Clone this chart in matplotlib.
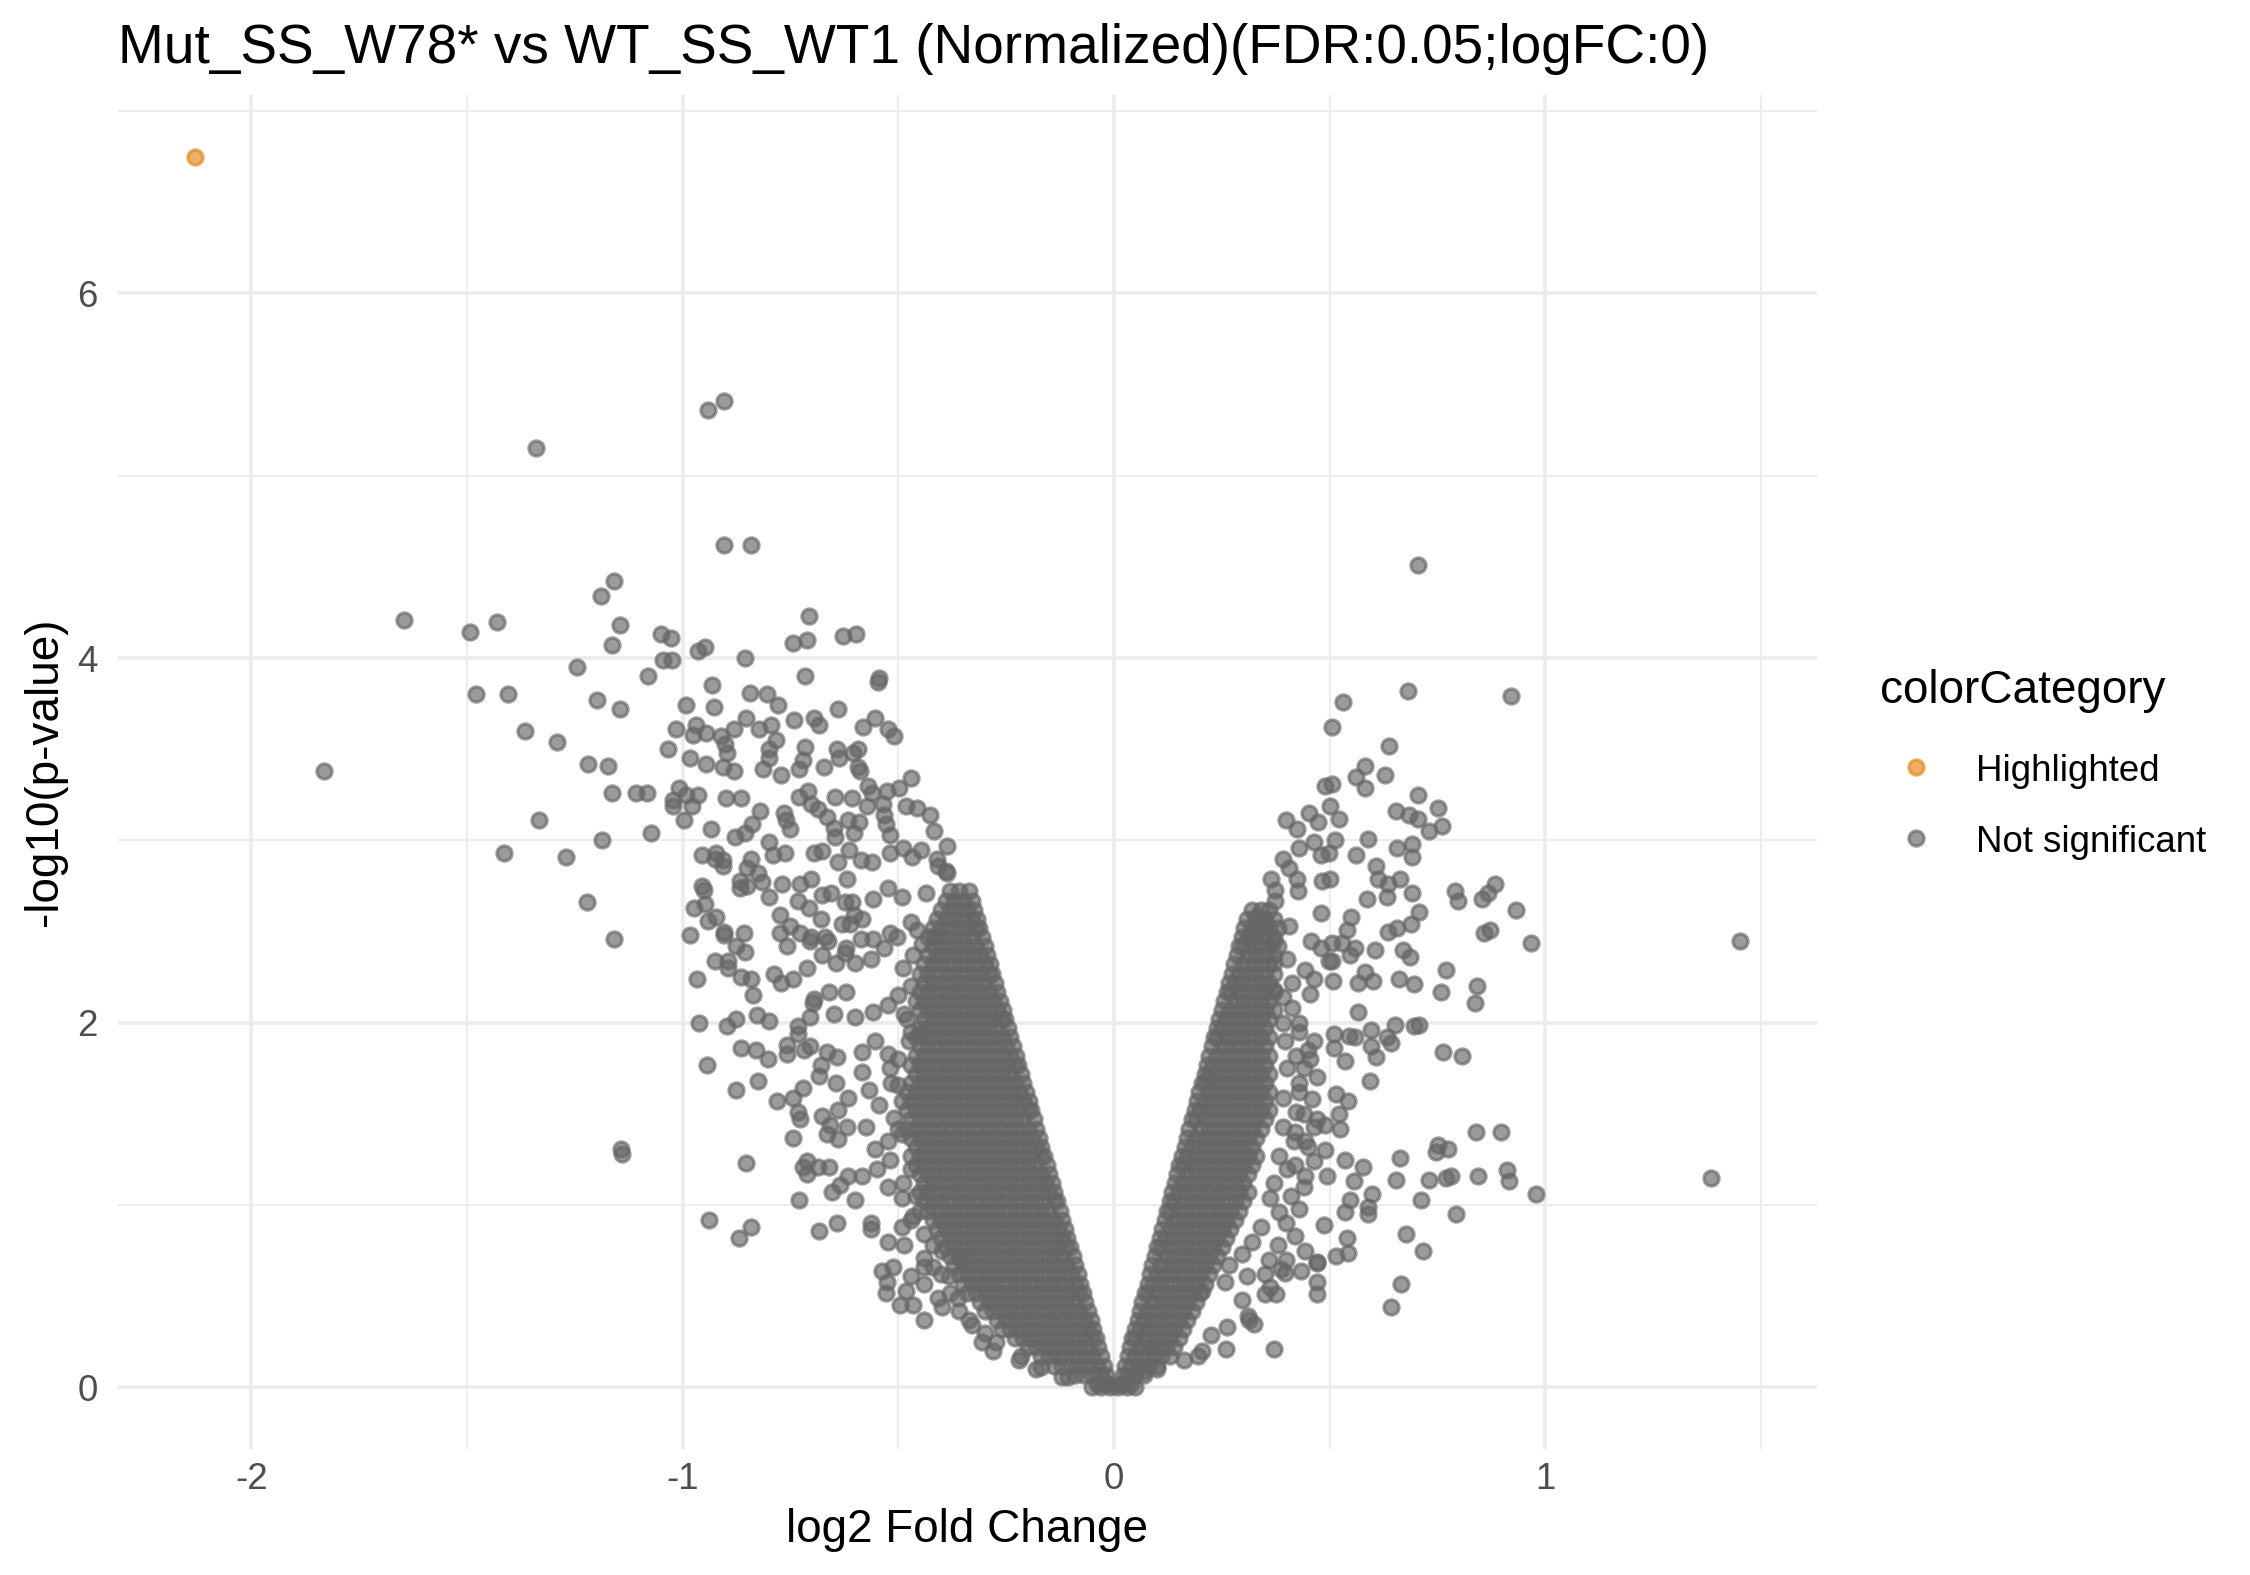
import numpy as np
import matplotlib
matplotlib.use("Agg")
import matplotlib.pyplot as plt
from matplotlib.lines import Line2D

plt.rcParams["font.family"] = ["Liberation Sans", "DejaVu Sans"]
plt.rcParams["axes.unicode_minus"] = False

title = "Mut_SS_W78* vs WT_SS_WT1 (Normalized)(FDR:0.05;logFC:0)"

# highlighted genes (log2FC, -log10 p)
hl_x = [-2.13, 0.09]
hl_y = [6.75, 0.22]

# dense V core, read row by row: (-log10 p, [log2FC, ...])
left_core = [
    (0.00, [-0.05, -0.03, -0.01]),
    (0.02, [-0.012, -0.02, -0.04]),
    (0.07, [-0.018, -0.03, -0.05, -0.07, -0.09]),
    (0.12, [-0.024, -0.04, -0.06, -0.08, -0.10, -0.12, -0.14]),
    (0.17, [-0.030, -0.05, -0.07, -0.09, -0.11, -0.13, -0.15, -0.17]),
    (0.22, [-0.036, -0.06, -0.08, -0.10, -0.12, -0.14, -0.16, -0.18, -0.20]),
    (0.27, [-0.042, -0.05, -0.07, -0.09, -0.11, -0.13, -0.15, -0.17, -0.19, -0.21, -0.23]),
    (0.32, [-0.048, -0.06, -0.08, -0.10, -0.12, -0.14, -0.16, -0.18, -0.20, -0.22, -0.24, -0.26]),
    (0.37, [-0.054, -0.07, -0.09, -0.11, -0.13, -0.15, -0.17, -0.19, -0.21, -0.23, -0.25, -0.27]),
    (0.42, [-0.060, -0.08, -0.10, -0.12, -0.14, -0.16, -0.18, -0.20, -0.22, -0.24, -0.26, -0.28, -0.30]),
    (0.47, [-0.066, -0.09, -0.11, -0.13, -0.15, -0.17, -0.19, -0.21, -0.23, -0.25, -0.27, -0.29, -0.31]),
    (0.52, [-0.072, -0.08, -0.10, -0.12, -0.14, -0.16, -0.18, -0.20, -0.22, -0.24, -0.26, -0.28, -0.30, -0.32, -0.34]),
    (0.57, [-0.078, -0.09, -0.11, -0.13, -0.15, -0.17, -0.19, -0.21, -0.23, -0.25, -0.27, -0.29, -0.31, -0.33, -0.35]),
    (0.62, [-0.084, -0.10, -0.12, -0.14, -0.16, -0.18, -0.20, -0.22, -0.24, -0.26, -0.28, -0.30, -0.32, -0.34, -0.36]),
    (0.67, [-0.090, -0.11, -0.13, -0.15, -0.17, -0.19, -0.21, -0.23, -0.25, -0.27, -0.29, -0.31, -0.33, -0.35, -0.37]),
    (0.72, [-0.096, -0.12, -0.14, -0.16, -0.18, -0.20, -0.22, -0.24, -0.26, -0.28, -0.30, -0.32, -0.34, -0.36, -0.38]),
    (0.77, [-0.102, -0.11, -0.13, -0.15, -0.17, -0.19, -0.21, -0.23, -0.25, -0.27, -0.29, -0.31, -0.33, -0.35, -0.37, -0.39]),
    (0.82, [-0.108, -0.12, -0.14, -0.16, -0.18, -0.20, -0.22, -0.24, -0.26, -0.28, -0.30, -0.32, -0.34, -0.36, -0.38, -0.40]),
    (0.87, [-0.114, -0.13, -0.15, -0.17, -0.19, -0.21, -0.23, -0.25, -0.27, -0.29, -0.31, -0.33, -0.35, -0.37, -0.39, -0.41]),
    (0.92, [-0.120, -0.14, -0.16, -0.18, -0.20, -0.22, -0.24, -0.26, -0.28, -0.30, -0.32, -0.34, -0.36, -0.38, -0.40, -0.42]),
    (0.97, [-0.126, -0.15, -0.17, -0.19, -0.21, -0.23, -0.25, -0.27, -0.29, -0.31, -0.33, -0.35, -0.37, -0.39, -0.41, -0.43]),
    (1.02, [-0.132, -0.14, -0.16, -0.18, -0.20, -0.22, -0.24, -0.26, -0.28, -0.30, -0.32, -0.34, -0.36, -0.38, -0.40, -0.42, -0.44]),
    (1.07, [-0.138, -0.15, -0.17, -0.19, -0.21, -0.23, -0.25, -0.27, -0.29, -0.31, -0.33, -0.35, -0.37, -0.39, -0.41, -0.43, -0.45]),
    (1.12, [-0.144, -0.16, -0.18, -0.20, -0.22, -0.24, -0.26, -0.28, -0.30, -0.32, -0.34, -0.36, -0.38, -0.40, -0.42, -0.44]),
    (1.17, [-0.150, -0.17, -0.19, -0.21, -0.23, -0.25, -0.27, -0.29, -0.31, -0.33, -0.35, -0.37, -0.39, -0.41, -0.43, -0.45]),
    (1.22, [-0.156, -0.18, -0.20, -0.22, -0.24, -0.26, -0.28, -0.30, -0.32, -0.34, -0.36, -0.38, -0.40, -0.42, -0.44, -0.46]),
    (1.27, [-0.162, -0.17, -0.19, -0.21, -0.23, -0.25, -0.27, -0.29, -0.31, -0.33, -0.35, -0.37, -0.39, -0.41, -0.43, -0.45, -0.47]),
    (1.32, [-0.168, -0.18, -0.20, -0.22, -0.24, -0.26, -0.28, -0.30, -0.32, -0.34, -0.36, -0.38, -0.40, -0.42, -0.44, -0.46]),
    (1.37, [-0.174, -0.19, -0.21, -0.23, -0.25, -0.27, -0.29, -0.31, -0.33, -0.35, -0.37, -0.39, -0.41, -0.43, -0.45, -0.47]),
    (1.42, [-0.180, -0.20, -0.22, -0.24, -0.26, -0.28, -0.30, -0.32, -0.34, -0.36, -0.38, -0.40, -0.42, -0.44, -0.46, -0.48]),
    (1.47, [-0.186, -0.21, -0.23, -0.25, -0.27, -0.29, -0.31, -0.33, -0.35, -0.37, -0.39, -0.41, -0.43, -0.45, -0.47]),
    (1.52, [-0.192, -0.20, -0.22, -0.24, -0.26, -0.28, -0.30, -0.32, -0.34, -0.36, -0.38, -0.40, -0.42, -0.44, -0.46, -0.48]),
    (1.57, [-0.198, -0.21, -0.23, -0.25, -0.27, -0.29, -0.31, -0.33, -0.35, -0.37, -0.39, -0.41, -0.43, -0.45, -0.47]),
    (1.62, [-0.204, -0.22, -0.24, -0.26, -0.28, -0.30, -0.32, -0.34, -0.36, -0.38, -0.40, -0.42, -0.44, -0.46, -0.48]),
    (1.67, [-0.210, -0.23, -0.25, -0.27, -0.29, -0.31, -0.33, -0.35, -0.37, -0.39, -0.41, -0.43, -0.45, -0.47]),
    (1.72, [-0.216, -0.24, -0.26, -0.28, -0.30, -0.32, -0.34, -0.36, -0.38, -0.40, -0.42, -0.44, -0.46]),
    (1.77, [-0.222, -0.23, -0.25, -0.27, -0.29, -0.31, -0.33, -0.35, -0.37, -0.39, -0.41, -0.43, -0.45, -0.47]),
    (1.82, [-0.228, -0.24, -0.26, -0.28, -0.30, -0.32, -0.34, -0.36, -0.38, -0.40, -0.42, -0.44, -0.46]),
    (1.87, [-0.234, -0.25, -0.27, -0.29, -0.31, -0.33, -0.35, -0.37, -0.39, -0.41, -0.43, -0.45]),
    (1.92, [-0.240, -0.26, -0.28, -0.30, -0.32, -0.34, -0.36, -0.38, -0.40, -0.42, -0.44, -0.46]),
    (1.97, [-0.246, -0.27, -0.29, -0.31, -0.33, -0.35, -0.37, -0.39, -0.41, -0.43, -0.45]),
    (2.02, [-0.252, -0.26, -0.28, -0.30, -0.32, -0.34, -0.36, -0.38, -0.40, -0.42, -0.44]),
    (2.07, [-0.258, -0.27, -0.29, -0.31, -0.33, -0.35, -0.37, -0.39, -0.41, -0.43, -0.45]),
    (2.12, [-0.264, -0.28, -0.30, -0.32, -0.34, -0.36, -0.38, -0.40, -0.42, -0.44]),
    (2.17, [-0.270, -0.29, -0.31, -0.33, -0.35, -0.37, -0.39, -0.41, -0.43, -0.45]),
    (2.22, [-0.276, -0.30, -0.32, -0.34, -0.36, -0.38, -0.40, -0.42, -0.44]),
    (2.27, [-0.282, -0.29, -0.31, -0.33, -0.35, -0.37, -0.39, -0.41, -0.43, -0.45]),
    (2.32, [-0.288, -0.30, -0.32, -0.34, -0.36, -0.38, -0.40, -0.42, -0.44]),
    (2.37, [-0.294, -0.31, -0.33, -0.35, -0.37, -0.39, -0.41, -0.43]),
    (2.42, [-0.300, -0.32, -0.34, -0.36, -0.38, -0.40, -0.42]),
    (2.47, [-0.306, -0.33, -0.35, -0.37, -0.39, -0.41, -0.43]),
    (2.52, [-0.312, -0.32, -0.34, -0.36, -0.38, -0.40, -0.42]),
    (2.57, [-0.318, -0.33, -0.35, -0.37, -0.39, -0.41]),
    (2.62, [-0.324, -0.34, -0.36, -0.38, -0.40]),
    (2.67, [-0.330, -0.35, -0.37, -0.39]),
    (2.72, [-0.336, -0.36, -0.38]),
]

right_core = [
    (0.00, [0.01, 0.03, 0.05]),
    (0.02, [0.014, 0.02, 0.04]),
    (0.07, [0.020, 0.03, 0.05, 0.07]),
    (0.12, [0.026, 0.04, 0.06, 0.08, 0.10]),
    (0.17, [0.032, 0.05, 0.07, 0.09, 0.11, 0.13]),
    (0.22, [0.037, 0.06, 0.08, 0.10, 0.12, 0.14]),
    (0.27, [0.043, 0.05, 0.07, 0.09, 0.11, 0.13, 0.15]),
    (0.32, [0.049, 0.06, 0.08, 0.10, 0.12, 0.14, 0.16]),
    (0.37, [0.055, 0.07, 0.09, 0.11, 0.13, 0.15, 0.17]),
    (0.42, [0.060, 0.08, 0.10, 0.12, 0.14, 0.16, 0.18]),
    (0.47, [0.066, 0.09, 0.11, 0.13, 0.15, 0.17, 0.19]),
    (0.52, [0.072, 0.08, 0.10, 0.12, 0.14, 0.16, 0.18, 0.20]),
    (0.57, [0.078, 0.09, 0.11, 0.13, 0.15, 0.17, 0.19, 0.21]),
    (0.62, [0.083, 0.10, 0.12, 0.14, 0.16, 0.18, 0.20, 0.22]),
    (0.67, [0.089, 0.11, 0.13, 0.15, 0.17, 0.19, 0.21, 0.23]),
    (0.72, [0.095, 0.12, 0.14, 0.16, 0.18, 0.20, 0.22, 0.24]),
    (0.77, [0.101, 0.11, 0.13, 0.15, 0.17, 0.19, 0.21, 0.23, 0.25]),
    (0.82, [0.106, 0.12, 0.14, 0.16, 0.18, 0.20, 0.22, 0.24, 0.26]),
    (0.87, [0.112, 0.13, 0.15, 0.17, 0.19, 0.21, 0.23, 0.25, 0.27]),
    (0.92, [0.118, 0.14, 0.16, 0.18, 0.20, 0.22, 0.24, 0.26, 0.28]),
    (0.97, [0.124, 0.13, 0.15, 0.17, 0.19, 0.21, 0.23, 0.25, 0.27, 0.29]),
    (1.02, [0.129, 0.14, 0.16, 0.18, 0.20, 0.22, 0.24, 0.26, 0.28, 0.30]),
    (1.07, [0.135, 0.15, 0.17, 0.19, 0.21, 0.23, 0.25, 0.27, 0.29, 0.31]),
    (1.12, [0.141, 0.16, 0.18, 0.20, 0.22, 0.24, 0.26, 0.28, 0.30]),
    (1.17, [0.147, 0.17, 0.19, 0.21, 0.23, 0.25, 0.27, 0.29, 0.31]),
    (1.22, [0.152, 0.16, 0.18, 0.20, 0.22, 0.24, 0.26, 0.28, 0.30, 0.32]),
    (1.27, [0.158, 0.17, 0.19, 0.21, 0.23, 0.25, 0.27, 0.29, 0.31, 0.33]),
    (1.32, [0.164, 0.18, 0.20, 0.22, 0.24, 0.26, 0.28, 0.30, 0.32]),
    (1.37, [0.170, 0.19, 0.21, 0.23, 0.25, 0.27, 0.29, 0.31, 0.33]),
    (1.42, [0.175, 0.20, 0.22, 0.24, 0.26, 0.28, 0.30, 0.32, 0.34]),
    (1.47, [0.181, 0.19, 0.21, 0.23, 0.25, 0.27, 0.29, 0.31, 0.33, 0.35]),
    (1.52, [0.187, 0.20, 0.22, 0.24, 0.26, 0.28, 0.30, 0.32, 0.34, 0.36]),
    (1.57, [0.193, 0.21, 0.23, 0.25, 0.27, 0.29, 0.31, 0.33, 0.35]),
    (1.62, [0.198, 0.22, 0.24, 0.26, 0.28, 0.30, 0.32, 0.34, 0.36]),
    (1.67, [0.204, 0.21, 0.23, 0.25, 0.27, 0.29, 0.31, 0.33, 0.35]),
    (1.72, [0.210, 0.22, 0.24, 0.26, 0.28, 0.30, 0.32, 0.34, 0.36]),
    (1.77, [0.216, 0.23, 0.25, 0.27, 0.29, 0.31, 0.33, 0.35]),
    (1.82, [0.221, 0.24, 0.26, 0.28, 0.30, 0.32, 0.34, 0.36]),
    (1.87, [0.227, 0.25, 0.27, 0.29, 0.31, 0.33, 0.35]),
    (1.92, [0.233, 0.24, 0.26, 0.28, 0.30, 0.32, 0.34, 0.36]),
    (1.97, [0.239, 0.25, 0.27, 0.29, 0.31, 0.33, 0.35]),
    (2.02, [0.244, 0.26, 0.28, 0.30, 0.32, 0.34, 0.36]),
    (2.07, [0.250, 0.27, 0.29, 0.31, 0.33, 0.35, 0.37]),
    (2.12, [0.256, 0.28, 0.30, 0.32, 0.34, 0.36]),
    (2.17, [0.262, 0.27, 0.29, 0.31, 0.33, 0.35, 0.37]),
    (2.22, [0.267, 0.28, 0.30, 0.32, 0.34, 0.36]),
    (2.27, [0.273, 0.29, 0.31, 0.33, 0.35, 0.37]),
    (2.32, [0.279, 0.30, 0.32, 0.34, 0.36]),
    (2.37, [0.285, 0.31, 0.33, 0.35, 0.37]),
    (2.42, [0.290, 0.30, 0.32, 0.34, 0.36, 0.38]),
    (2.47, [0.296, 0.31, 0.33, 0.35, 0.37]),
    (2.52, [0.302, 0.32, 0.34, 0.36, 0.38]),
    (2.57, [0.308, 0.33, 0.35, 0.37]),
    (2.62, [0.32, 0.34, 0.36]),
]

# loose points outside the core, left arm
spread_left = [
    (-0.942, 5.36), (-0.905, 5.41), (-1.34, 5.15), (-0.904, 4.62), (-0.842, 4.62),
    (-1.158, 4.42), (-1.189, 4.34), (-1.647, 4.21), (-1.431, 4.20), (-1.492, 4.14),
    (-1.145, 4.18), (-1.164, 4.07), (-1.05, 4.13), (-1.028, 4.11), (-0.965, 4.04),
    (-0.948, 4.06), (-1.045, 3.99), (-1.025, 3.99), (-0.855, 4.0), (-1.246, 3.95),
    (-1.081, 3.90), (-0.932, 3.85), (-0.844, 3.81), (-1.48, 3.80), (-1.404, 3.80),
    (-1.198, 3.77), (-1.146, 3.72), (-0.991, 3.74), (-0.928, 3.73), (-0.852, 3.67),
    (-1.365, 3.60), (-1.292, 3.54), (-1.016, 3.61), (-0.97, 3.63), (-0.977, 3.58),
    (-0.946, 3.59), (-0.911, 3.57), (-0.882, 3.61), (-0.901, 3.53), (-0.896, 3.48),
    (-1.035, 3.50), (-0.984, 3.45), (-0.946, 3.42), (-0.907, 3.40), (-0.88, 3.38),
    (-1.219, 3.42), (-1.173, 3.41), (-1.832, 3.38), (-1.164, 3.26), (-1.107, 3.26),
    (-1.083, 3.26), (-1.009, 3.29), (-0.992, 3.25), (-0.964, 3.25), (-1.023, 3.22),
    (-1.023, 3.19), (-0.978, 3.19), (-0.9, 3.23), (-0.865, 3.23), (-0.996, 3.11),
    (-1.333, 3.11), (-1.074, 3.04), (-0.935, 3.06), (-0.879, 3.02), (-0.856, 3.04),
    (-1.188, 3.0), (-1.414, 2.93), (-1.27, 2.91), (-0.956, 2.92), (-0.922, 2.93),
    (-0.926, 2.90), (-0.907, 2.89), (-0.907, 2.86), (-0.85, 2.85), (-0.842, 2.9),
    (-0.868, 2.78), (-0.868, 2.74), (-0.85, 2.75), (-0.956, 2.75), (-0.951, 2.73),
    (-1.222, 2.66), (-0.974, 2.63), (-0.949, 2.65), (-0.922, 2.58), (-0.94, 2.56),
    (-0.904, 2.50), (-0.903, 2.48), (-0.858, 2.49), (-0.982, 2.48), (-1.16, 2.46),
    (-0.876, 2.42), (-0.855, 2.39), (-0.925, 2.34), (-0.895, 2.34), (-0.895, 2.30),
    (-0.967, 2.24), (-0.864, 2.25), (-0.841, 2.24),
    (-0.707, 4.23), (-0.743, 4.08), (-0.712, 4.10), (-0.627, 4.12), (-0.597, 4.13),
    (-0.716, 3.90), (-0.544, 3.89), (-0.548, 3.87), (-0.804, 3.80), (-0.779, 3.74),
    (-0.639, 3.72), (-0.555, 3.67), (-0.582, 3.62), (-0.523, 3.61), (-0.511, 3.57),
    (-0.742, 3.66), (-0.695, 3.67), (-0.684, 3.63), (-0.824, 3.61), (-0.794, 3.63),
    (-0.784, 3.55), (-0.8, 3.50), (-0.8, 3.45), (-0.716, 3.51), (-0.72, 3.44),
    (-0.643, 3.50), (-0.637, 3.45), (-0.593, 3.50), (-0.606, 3.48), (-0.813, 3.39),
    (-0.773, 3.36), (-0.731, 3.39), (-0.673, 3.40), (-0.593, 3.40), (-0.588, 3.38),
    (-0.571, 3.30), (-0.561, 3.26), (-0.471, 3.34), (-0.499, 3.29), (-0.527, 3.27),
    (-0.731, 3.24), (-0.71, 3.27), (-0.647, 3.24), (-0.607, 3.23), (-0.821, 3.16),
    (-0.766, 3.15), (-0.761, 3.11), (-0.751, 3.06), (-0.702, 3.20), (-0.686, 3.17),
    (-0.665, 3.13), (-0.65, 3.07), (-0.572, 3.19), (-0.535, 3.20), (-0.532, 3.14),
    (-0.529, 3.09), (-0.519, 3.03), (-0.481, 3.19), (-0.457, 3.18), (-0.426, 3.14),
    (-0.418, 3.05), (-0.387, 2.97), (-0.617, 3.11), (-0.592, 3.10), (-0.603, 3.04),
    (-0.647, 3.02), (-0.839, 3.09), (-0.8, 2.99), (-0.79, 2.92), (-0.762, 2.93),
    (-0.696, 2.93), (-0.676, 2.94), (-0.64, 2.88), (-0.615, 2.95), (-0.587, 2.89),
    (-0.561, 2.88), (-0.519, 2.93), (-0.49, 2.96), (-0.468, 2.91), (-0.447, 2.95),
    (-0.41, 2.90), (-0.39, 2.83), (-0.826, 2.82), (-0.816, 2.77), (-0.769, 2.76),
    (-0.728, 2.76), (-0.702, 2.79), (-0.676, 2.70), (-0.618, 2.79), (-0.559, 2.68),
    (-0.608, 2.66), (-0.655, 2.71), (-0.8, 2.69), (-0.774, 2.59), (-0.75, 2.53),
    (-0.733, 2.67), (-0.707, 2.63), (-0.68, 2.57), (-0.624, 2.66), (-0.603, 2.59),
    (-0.728, 2.49), (-0.702, 2.47), (-0.67, 2.47), (-0.63, 2.54), (-0.774, 2.49),
    (-0.759, 2.42), (-0.712, 2.30), (-0.676, 2.37), (-0.66, 2.17), (-0.644, 2.33),
    (-0.624, 2.38), (-0.587, 2.46), (-0.559, 2.46), (-0.519, 2.49), (-0.457, 2.51),
    (-0.42, 2.47), (-0.787, 2.27), (-0.771, 2.22), (-0.743, 2.24), (-0.837, 2.15),
    (-0.696, 2.13), (-0.523, 2.74), (-0.492, 2.69), (-0.435, 2.71), (-0.388, 2.82),
    (-0.408, 2.86), (-0.533, 2.41), (-0.502, 2.47), (-0.466, 2.37), (-0.445, 2.43),
    (-0.564, 2.35), (-0.601, 2.33), (-0.585, 2.57), (-0.611, 2.54), (-0.622, 2.41),
    (-0.663, 2.45), (-0.705, 2.45),
    (-0.876, 2.02), (-0.828, 2.04), (-0.8, 2.01), (-0.962, 2.0), (-0.897, 1.98),
    (-0.705, 2.03), (-0.733, 1.98), (-0.733, 1.94), (-0.65, 2.05), (-0.698, 2.11),
    (-0.622, 2.17), (-0.864, 1.86), (-0.83, 1.85), (-0.802, 1.80), (-0.757, 1.88),
    (-0.757, 1.83), (-0.718, 1.85), (-0.705, 1.87), (-0.666, 1.84), (-0.642, 1.81),
    (-0.679, 1.77), (-0.684, 1.71), (-0.944, 1.77), (-0.876, 1.63), (-0.826, 1.68),
    (-0.781, 1.57), (-0.745, 1.59), (-0.722, 1.64), (-0.645, 1.67), (-0.616, 1.59),
    (-0.733, 1.51), (-0.728, 1.47), (-0.677, 1.49), (-0.658, 1.44), (-0.64, 1.52),
    (-0.743, 1.37), (-0.666, 1.39), (-0.64, 1.36), (-0.618, 1.43), (-1.143, 1.31),
    (-1.14, 1.28), (-0.852, 1.23), (-0.712, 1.24), (-0.72, 1.21), (-0.687, 1.21),
    (-0.66, 1.21), (-0.712, 1.17), (-0.635, 1.11), (-0.653, 1.07), (-0.731, 1.03),
    (-0.616, 1.16), (-0.939, 0.92), (-0.842, 0.88), (-0.87, 0.82), (-0.684, 0.86),
    (-0.642, 0.90), (-0.564, 0.87), (-0.486, 0.78), (-0.513, 0.66), (-0.525, 0.58),
    (-0.47, 0.61), (-0.398, 0.44), (-0.419, 0.66), (-0.6, 1.03),
    (-0.601, 2.03), (-0.559, 2.06), (-0.523, 2.10), (-0.486, 2.05), (-0.46, 2.12),
    (-0.585, 1.84), (-0.554, 1.90), (-0.523, 1.83), (-0.476, 1.90), (-0.45, 1.94),
    (-0.585, 1.73), (-0.569, 1.63), (-0.544, 1.55), (-0.518, 1.67), (-0.492, 1.57),
    (-0.575, 1.43), (-0.554, 1.31), (-0.523, 1.35), (-0.492, 1.39), (-0.585, 1.16),
    (-0.549, 1.20), (-0.523, 1.10), (-0.492, 1.04), (-0.564, 0.90), (-0.523, 0.80),
    (-0.492, 0.88), (-0.466, 0.94), (-0.538, 0.64), (-0.528, 0.52), (-0.497, 0.45),
    (-0.466, 0.45), (-0.481, 0.53), (-0.44, 0.37), (-0.408, 0.49), (-0.44, 0.71),
    (-0.398, 0.75), (-0.383, 0.61), (-0.362, 0.49), (-0.336, 0.37), (-0.305, 0.25),
    (-0.273, 0.25), (-0.357, 0.71), (-0.44, 0.57),
    (-0.47, 2.55), (-0.49, 2.30), (-0.47, 2.20), (-0.50, 2.15), (-0.48, 2.02),
    (-0.47, 1.95), (-0.50, 1.80), (-0.52, 1.75), (-0.50, 1.66), (-0.51, 1.48),
    (-0.50, 1.42), (-0.52, 1.25), (-0.47, 1.20), (-0.49, 1.12), (-0.46, 1.05),
    (-0.45, 0.97), (-0.47, 0.92), (-0.44, 0.84), (-0.42, 0.78), (-0.44, 0.66),
    (-0.40, 0.62), (-0.38, 0.52), (-0.36, 0.42), (-0.33, 0.34), (-0.30, 0.30),
    (-0.28, 0.20), (-0.22, 0.15), (-0.18, 0.10), (-0.12, 0.06), (-0.216, 0.17),
    (-0.169, 0.11), (-0.107, 0.06),
]

# loose points outside the core, right arm
spread_right = [
    (0.706, 4.51), (0.682, 3.82), (0.92, 3.79), (0.53, 3.76), (0.505, 3.62),
    (0.638, 3.52), (0.583, 3.41), (0.562, 3.35), (0.628, 3.36), (0.583, 3.29),
    (0.49, 3.30), (0.505, 3.31), (0.5, 3.19), (0.706, 3.25), (0.751, 3.18),
    (0.653, 3.16), (0.685, 3.14), (0.706, 3.12), (0.73, 3.05), (0.76, 3.08),
    (0.4, 3.11), (0.424, 3.06), (0.453, 3.15), (0.472, 3.10), (0.522, 3.12),
    (0.43, 2.96), (0.463, 2.99), (0.479, 2.92), (0.498, 2.93), (0.513, 3.0),
    (0.589, 3.01), (0.656, 2.96), (0.692, 2.98), (0.692, 2.91), (0.561, 2.92),
    (0.391, 2.90), (0.407, 2.85), (0.425, 2.79), (0.365, 2.79), (0.373, 2.73),
    (0.427, 2.72), (0.373, 2.67), (0.482, 2.78), (0.5, 2.79), (0.608, 2.86),
    (0.612, 2.79), (0.635, 2.76), (0.664, 2.79), (0.634, 2.69), (0.692, 2.71),
    (0.587, 2.68), (0.707, 2.61), (0.79, 2.72), (0.798, 2.67), (0.853, 2.68),
    (0.868, 2.71), (0.884, 2.76), (0.933, 2.62), (0.479, 2.60), (0.549, 2.58),
    (0.541, 2.51), (0.635, 2.50), (0.656, 2.52), (0.689, 2.54), (0.858, 2.49),
    (0.871, 2.51), (0.967, 2.44), (1.451, 2.45), (0.458, 2.45), (0.479, 2.41),
    (0.505, 2.44), (0.528, 2.44), (0.559, 2.41), (0.547, 2.37), (0.605, 2.40),
    (0.671, 2.40), (0.687, 2.36), (0.769, 2.29), (0.842, 2.20), (0.837, 2.11),
    (0.758, 2.17), (0.583, 2.28), (0.567, 2.22), (0.6, 2.23), (0.661, 2.24),
    (0.695, 2.21), (0.508, 2.23), (0.498, 2.34), (0.506, 2.34), (0.567, 2.06),
    (0.651, 1.99), (0.695, 1.98), (0.707, 1.99), (0.595, 1.96), (0.545, 1.93),
    (0.56, 1.92), (0.51, 1.94), (0.51, 1.86), (0.634, 1.92), (0.643, 1.89),
    (0.762, 1.84), (0.808, 1.82), (0.536, 1.79), (0.596, 1.87), (0.607, 1.81),
    (0.593, 1.68), (0.516, 1.61), (0.542, 1.57), (0.521, 1.50), (0.524, 1.42),
    (0.49, 1.44), (0.84, 1.40), (0.897, 1.40), (0.752, 1.33), (0.775, 1.31),
    (0.747, 1.29), (0.664, 1.26), (0.578, 1.21), (0.536, 1.25), (0.655, 1.14),
    (0.73, 1.14), (0.77, 1.15), (0.782, 1.16), (0.845, 1.16), (0.912, 1.19),
    (0.915, 1.13), (0.978, 1.06), (1.384, 1.15), (0.557, 1.13), (0.599, 1.06),
    (0.588, 0.99), (0.588, 0.95), (0.536, 0.96), (0.548, 1.03), (0.713, 1.03),
    (0.793, 0.95), (0.54, 0.82), (0.542, 0.74), (0.514, 0.72), (0.676, 0.84),
    (0.716, 0.75), (0.471, 0.68), (0.471, 0.58), (0.471, 0.51), (0.433, 0.64),
    (0.665, 0.57), (0.643, 0.44), (0.49, 1.30), (0.493, 1.16), (0.488, 0.89),
    (0.372, 0.21), (0.324, 0.35), (0.311, 0.39), (0.259, 0.21),
    (0.392, 2.0), (0.413, 2.08), (0.428, 2.0), (0.397, 1.9), (0.423, 1.82),
    (0.402, 1.75), (0.428, 1.67), (0.392, 1.59), (0.423, 1.51), (0.392, 1.43),
    (0.418, 1.35), (0.382, 1.27), (0.402, 1.2), (0.371, 1.12), (0.361, 1.04),
    (0.382, 0.96), (0.34, 0.88), (0.319, 0.8), (0.298, 0.73), (0.267, 0.67),
    (0.392, 2.14), (0.371, 2.18), (0.413, 2.22), (0.371, 2.33), (0.402, 2.35),
    (0.371, 2.45), (0.407, 2.53), (0.35, 2.55), (0.33, 2.58), (0.319, 2.47),
    (0.444, 2.29), (0.465, 2.24), (0.454, 2.16), (0.465, 1.9), (0.454, 1.8),
    (0.465, 1.43), (0.444, 1.35), (0.465, 1.24), (0.444, 1.16), (0.47, 0.69),
    (0.444, 0.75), (0.387, 0.65), (0.397, 0.63), (0.376, 0.51), (0.361, 0.55),
    (0.309, 0.61), (0.35, 0.51), (0.257, 0.58), (0.205, 0.53), (0.298, 0.48),
    (0.43, 1.95), (0.45, 1.85), (0.44, 1.75), (0.47, 1.70), (0.43, 1.62),
    (0.46, 1.58), (0.44, 1.50), (0.47, 1.47), (0.42, 1.40), (0.45, 1.32),
    (0.42, 1.22), (0.44, 1.10), (0.41, 1.05), (0.43, 0.98), (0.40, 0.90),
    (0.42, 0.83), (0.38, 0.78), (0.40, 0.70), (0.36, 0.70), (0.35, 0.62),
    (0.07, 0.09), (0.10, 0.10), (0.163, 0.15), (0.194, 0.17), (0.205, 0.20),
    (0.226, 0.29), (0.262, 0.33), (0.314, 0.37),
]

# assemble the not-significant genes
ns_x, ns_y = [], []
for yv, xs in left_core + right_core:
    ns_x += xs
    ns_y += [yv] * len(xs)
for xv, yv in spread_left + spread_right:
    ns_x.append(xv)
    ns_y.append(yv)
ns_x = np.array(ns_x)
ns_y = np.array(ns_y)

grey = "#666666"
orange = "#E2841A"
pt_size = 13.0
pt_lw = 0.8
pt_alpha = 0.65

fig = plt.figure(figsize=(7.5, 5.25), dpi=300)
ax = fig.add_axes([118 / 2250, 1 - 1449 / 1575, (1817 - 118) / 2250, (1449 - 95) / 1575])

ax.scatter(hl_x, hl_y, s=pt_size, color=orange, edgecolors=orange, linewidths=pt_lw, alpha=pt_alpha, zorder=2)
ax.scatter(ns_x, ns_y, s=pt_size, color=grey, edgecolors=grey, linewidths=pt_lw, alpha=pt_alpha, zorder=3)

# ggplot style 5% expansion
all_x = np.concatenate([ns_x, hl_x])
all_y = np.concatenate([ns_y, hl_y])
xr = all_x.max() - all_x.min()
yr = all_y.max() - all_y.min()
ax.set_xlim(all_x.min() - 0.05 * xr, all_x.max() + 0.05 * xr)
ax.set_ylim(all_y.min() - 0.05 * yr, all_y.max() + 0.05 * yr)

ax.set_xticks([-2, -1, 0, 1])
ax.set_xticks([-1.5, -0.5, 0.5, 1.5], minor=True)
ax.set_yticks([0, 2, 4, 6])
ax.set_yticks([1, 3, 5, 7], minor=True)
ax.set_axisbelow(True)
ax.grid(which="major", color="#EBEBEB", linewidth=0.85)
ax.grid(which="minor", color="#EBEBEB", linewidth=0.45)
ax.tick_params(which="both", length=0, labelsize=8.8, labelcolor="#4D4D4D")
ax.tick_params(axis="x", pad=3.2)
ax.tick_params(axis="y", pad=4.9)
for sp in ax.spines.values():
    sp.set_visible(False)

fig.text(118 / 2250, 1 - 63 / 1575, title, fontsize=13.2, ha="left", va="baseline")
fig.text(((118 + 1817) / 2) / 2250, 1 - 1542 / 1575, "log2 Fold Change", fontsize=11, ha="center", va="baseline")
fig.text(45 / 2250, 1 - 772 / 1575, "-log10(p-value)", fontsize=11, rotation=90, ha="center", va="center")

# legend
fig.text(1880 / 2250, 1 - 703 / 1575, "colorCategory", fontsize=11, ha="left", va="baseline")
for col, lab, ym, yb in [(orange, "Highlighted", 767, 781), (grey, "Not significant", 838, 852)]:
    fig.add_artist(Line2D([1916 / 2250], [1 - ym / 1575], transform=fig.transFigure, marker="o",
                          linestyle="none", markersize=np.sqrt(pt_size), markeredgewidth=pt_lw,
                          color=col, alpha=pt_alpha))
    fig.text(1976 / 2250, 1 - yb / 1575, lab, fontsize=8.8, ha="left", va="baseline")

fig.savefig("out.png", dpi=300)
